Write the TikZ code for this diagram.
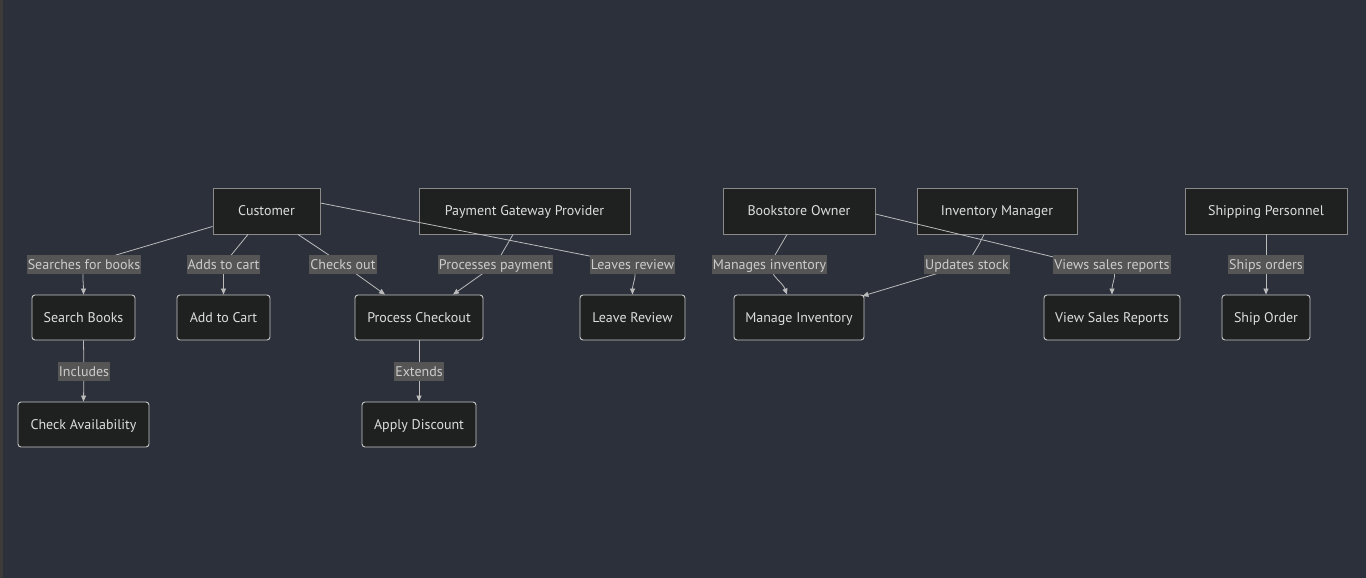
\documentclass[tikz,border=0pt]{standalone}
\usepackage{fontspec}
\setmainfont{PT Sans}
\usetikzlibrary{arrows.meta}
\definecolor{bgc}{HTML}{2B303B}
\definecolor{strip}{HTML}{3C3B39}
\definecolor{boxfill}{HTML}{1F2020}
\definecolor{actorline}{HTML}{8A8A8A}
\definecolor{ucline}{HTML}{C8C8C8}
\definecolor{txt}{HTML}{DDDDDD}
\definecolor{lblbg}{HTML}{555555}
\definecolor{lbltxt}{HTML}{CCCCCC}
\definecolor{edgec}{HTML}{BBBBBB}
\tikzset{
  x=1pt, y=-1pt,
  basefont/.style={font=\fontsize{14}{16}\selectfont, text height=11pt, text depth=2pt},
  actor/.style={basefont, draw=actorline, fill=boxfill, text=txt, line width=0.9pt,
    minimum height=46, inner sep=0pt},
  usecase/.style={basefont, draw=ucline, fill=boxfill, text=txt, line width=0.9pt,
    rounded corners=3pt, minimum height=45, inner sep=0pt},
  elabel/.style={basefont, fill=lblbg, text=lbltxt, inner xsep=1pt, inner ysep=3pt},
  eline/.style={draw=edgec, line width=0.8pt},
  earrow/.style={draw=edgec, line width=0.8pt, -{Triangle[length=6pt,width=5pt]}},
}
\begin{document}
\begin{tikzpicture}
\fill[bgc] (0,0) rectangle (1366,578);
\fill[strip] (0,0) rectangle (3,578);
\useasboundingbox (0,0) rectangle (1366,578);

% actors
\node[actor, minimum width=107] (cust) at (266.5,211) {Customer};
\node[actor, minimum width=211] (pay) at (524.5,211) {Payment Gateway Provider};
\node[actor, minimum width=152] (owner) at (799,211) {Bookstore Owner};
\node[actor, minimum width=160] (inv) at (997,211) {Inventory Manager};
\node[actor, minimum width=162] (ship) at (1266,211) {Shipping Personnel};

% use cases
\node[usecase, minimum width=103] (sb) at (83.5,317.5) {Search Books};
\node[usecase, minimum width=93] (ac) at (223.5,317.5) {Add to Cart};
\node[usecase, minimum width=128] (pc) at (419,317.5) {Process Checkout};
\node[usecase, minimum width=105] (lr) at (632.5,317.5) {Leave Review};
\node[usecase, minimum width=130] (mi) at (799,317.5) {Manage Inventory};
\node[usecase, minimum width=136] (vs) at (1112,317.5) {View Sales Reports};
\node[usecase, minimum width=88] (so) at (1266,317.5) {Ship Order};
\node[usecase, minimum width=131] (ca) at (83.5,424.5) {Check Availability};
\node[usecase, minimum width=114] (ad) at (419,424.5) {Apply Discount};

% label coordinates
\coordinate (l1) at (84,264.5);
\coordinate (l2) at (223.5,264.5);
\coordinate (l3) at (343,264.5);
\coordinate (l4) at (495.5,264.5);
\coordinate (l5) at (632.5,264.5);
\coordinate (l6) at (769.5,264.5);
\coordinate (l7) at (967,264.5);
\coordinate (l8) at (1112,264.5);
\coordinate (l9) at (1266,264.5);
\coordinate (l10) at (84,371.5);
\coordinate (l11) at (419,371.5);
\coordinate (w8) at (1070,261);

% edges
\draw[eline] ([yshift=8]cust.south west) -- (l1);
\draw[earrow] (l1) to[out=-100,in=90] (sb.north);

\draw[eline] ([xshift=-18.5]cust.south) -- (l2);
\draw[earrow] (l2) -- (ac.north);

\draw[eline] ([xshift=31.5]cust.south) -- (l3);
\draw[earrow] (l3) -- ([xshift=-34]pc.north);

\draw[eline] ([yshift=8]cust.east) -- (l5);
\draw[earrow] (l5) to[out=-60,in=90] (lr.north);

\draw[eline] ([xshift=-11.5]pay.south) -- (l4);
\draw[earrow] (l4) -- ([xshift=34]pc.north);

\draw[eline] ([xshift=-12]owner.south) -- (l6);
\draw[earrow] (l6) to[out=-80,in=110] ([xshift=-12]mi.north);

\draw[eline] ([xshift=-13]inv.south) to[out=-115,in=60] (l7);
\draw[earrow] (l7) -- ([xshift=-2,yshift=-1.5]mi.north east);

\draw[eline] ([yshift=-3]owner.east) -- (w8) -- (l8);
\draw[earrow] (l8) to[out=-60,in=90] (vs.north);

\draw[eline] (ship.south) -- (l9);
\draw[earrow] (l9) -- (so.north);

\draw[eline] (sb.south) -- (l10);
\draw[earrow] (l10) -- (ca.north);

\draw[eline] (pc.south) -- (l11);
\draw[earrow] (l11) -- (ad.north);

% labels on top
\node[elabel] (t1) at (l1) {Searches for books};
\node[elabel] (t2) at (l2) {Adds to cart};
\node[elabel] (t3) at (l3) {Checks out};
\node[elabel] (t4) at (l4) {Processes payment};
\node[elabel] (t5) at (l5) {Leaves review};
\node[elabel] (t6) at (l6) {Manages inventory};
\node[elabel] (t7) at (l7) {Updates stock};
\node[elabel] (t8) at (l8) {Views sales reports};
\node[elabel] (t9) at (l9) {Ships orders};
\node[elabel] (t10) at (l10) {Includes};
\node[elabel] (t11) at (l11) {Extends};
\end{tikzpicture}
\end{document}
